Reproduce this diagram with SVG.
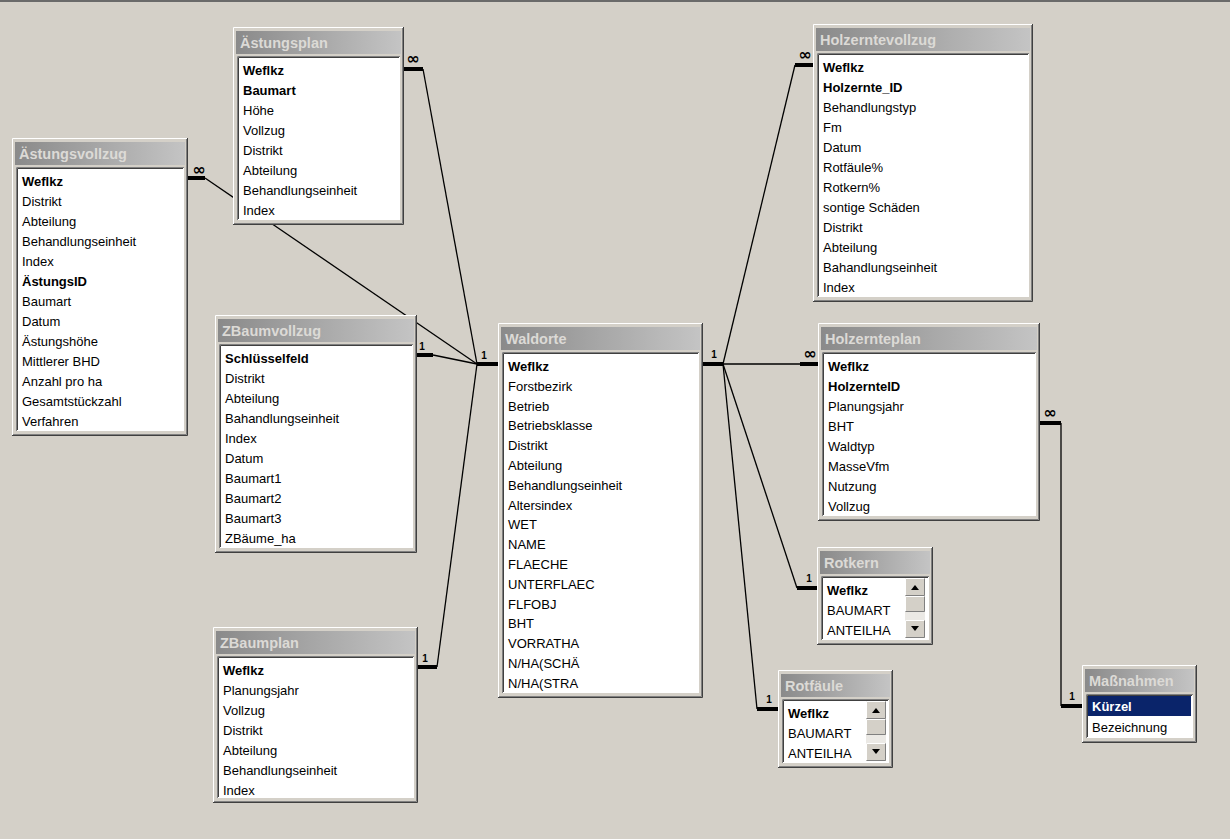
<svg xmlns="http://www.w3.org/2000/svg" width="1230" height="839" viewBox="0 0 1230 839">
<defs>
<linearGradient id="tbg" x1="0" y1="0" x2="1" y2="0"><stop offset="0" stop-color="#8a8a8a"/><stop offset="1" stop-color="#c4c4c4"/></linearGradient>
<style>
.fr{fill:#d4d0c8}
.hi{fill:none;stroke:#ffffff;stroke-width:1}
.dk{fill:none;stroke:#404040;stroke-width:1}
.md{fill:none;stroke:#808080;stroke-width:1}
.tb{fill:url(#tbg)}
.tt{font-family:"Liberation Sans",Arial,sans-serif;font-size:14.5px;font-weight:bold;fill:#dcdad6}
.lb{fill:#ffffff}
.f{font-family:"Liberation Sans",Arial,sans-serif;font-size:13px;fill:#000000}
.k{font-weight:bold}
.sel{fill:#ffffff;font-weight:bold}
.ln{fill:none;stroke:#000000;stroke-width:1.3}
.st{fill:none;stroke:#000000;stroke-width:4}
.one{font-family:"Liberation Sans",Arial,sans-serif;font-size:10px;font-weight:bold;fill:#000000;text-anchor:middle}
.inf{font-family:"DejaVu Sans",sans-serif;font-size:16px;font-weight:bold;fill:#000000;text-anchor:middle}
</style>
<g id="sbar">
<rect x="0" y="0" width="20" height="60" fill="#ebe9e5"/>
<rect class="fr" x="0" y="0" width="20" height="18"/>
<path class="hi" d="M0.5,17.5V0.5H19.5"/>
<path class="md" d="M0.5,17.5H19.5V0.5"/>
<path d="M6,12H14L10,7Z" fill="#000"/>
<rect class="fr" x="0" y="18" width="20" height="16"/>
<path class="hi" d="M0.5,33.5V18.5H19.5"/>
<path class="md" d="M0.5,33.5H19.5V18.5"/>
<rect class="fr" x="0" y="42" width="20" height="18"/>
<path class="hi" d="M0.5,59.5V42.5H19.5"/>
<path class="md" d="M0.5,59.5H19.5V42.5"/>
<path d="M6,48H14L10,53Z" fill="#000"/>
</g>
</defs>
<rect x="0" y="0" width="1230" height="839" fill="#d4d0c8"/>
<rect x="0" y="0" width="1230" height="2" fill="#6a6a6a"/>

<g id="connectors">
<path class="ln" d="M205,178L477,364"/>
<path class="ln" d="M423,69L477,364"/>
<path class="ln" d="M433,355L477,364"/>
<path class="ln" d="M437,667L477,364"/>
<path class="ln" d="M723,364L795,65"/>
<path class="ln" d="M723,364H800"/>
<path class="ln" d="M723,364L797,588"/>
<path class="ln" d="M723,364L757,709"/>
<path class="ln" d="M1061,423V706"/>
<path class="st" d="M188,178H205"/>
<path class="st" d="M404,69H423"/>
<path class="st" d="M417,355H433"/>
<path class="st" d="M418,667H437"/>
<path class="st" d="M477,364H498"/>
<path class="st" d="M703,364H723"/>
<path class="st" d="M795,65H813"/>
<path class="st" d="M800,364H818"/>
<path class="st" d="M797,588H817"/>
<path class="st" d="M757,709H778"/>
<path class="st" d="M1040,423H1061"/>
<path class="st" d="M1061,706H1082"/>
<text class="inf" x="199" y="175">∞</text>
<text class="inf" x="413" y="64">∞</text>
<text class="one" x="422" y="350">1</text>
<text class="one" x="425" y="662">1</text>
<text class="one" x="484" y="359">1</text>
<text class="one" x="714" y="358">1</text>
<text class="inf" x="805" y="60">∞</text>
<text class="inf" x="810" y="359">∞</text>
<text class="one" x="809" y="582">1</text>
<text class="one" x="769" y="703">1</text>
<text class="inf" x="1050" y="418">∞</text>
<text class="one" x="1072" y="700">1</text>
</g>

<g id="Astungsvollzug" transform="translate(12,138)">
<rect class="fr" width="176" height="298"/>
<path class="hi" d="M0.5,297V0.5H175"/><path class="dk" d="M0,297.5H175.5V0"/><path class="md" d="M1,296.5H174.5V1"/>
<rect class="tb" x="3" y="4" width="170" height="23"/>
<text class="tt" x="7" y="21">Ästungsvollzug</text>
<rect class="lb" x="4" y="29" width="168" height="264"/>
<path class="md" d="M4.5,293V29.5H172"/><path class="dk" d="M5.5,292V30.5H171"/>
<text class="f k" x="10" y="48">Weflkz</text>
<text class="f" x="10" y="68">Distrikt</text>
<text class="f" x="10" y="88">Abteilung</text>
<text class="f" x="10" y="108">Behandlungseinheit</text>
<text class="f" x="10" y="128">Index</text>
<text class="f k" x="10" y="148">ÄstungsID</text>
<text class="f" x="10" y="168">Baumart</text>
<text class="f" x="10" y="188">Datum</text>
<text class="f" x="10" y="208">Ästungshöhe</text>
<text class="f" x="10" y="228">Mittlerer BHD</text>
<text class="f" x="10" y="248">Anzahl pro ha</text>
<text class="f" x="10" y="268">Gesamtstückzahl</text>
<text class="f" x="10" y="288">Verfahren</text>
</g>

<g id="Astungsplan" transform="translate(233,27)">
<rect class="fr" width="171" height="198"/>
<path class="hi" d="M0.5,197V0.5H170"/><path class="dk" d="M0,197.5H170.5V0"/><path class="md" d="M1,196.5H169.5V1"/>
<rect class="tb" x="3" y="4" width="165" height="23"/>
<text class="tt" x="7" y="21">Ästungsplan</text>
<rect class="lb" x="4" y="29" width="163" height="164"/>
<path class="md" d="M4.5,193V29.5H167"/><path class="dk" d="M5.5,192V30.5H166"/>
<text class="f k" x="10" y="48">Weflkz</text>
<text class="f k" x="10" y="68">Baumart</text>
<text class="f" x="10" y="88">Höhe</text>
<text class="f" x="10" y="108">Vollzug</text>
<text class="f" x="10" y="128">Distrikt</text>
<text class="f" x="10" y="148">Abteilung</text>
<text class="f" x="10" y="168">Behandlungseinheit</text>
<text class="f" x="10" y="188">Index</text>
</g>

<g id="ZBaumvollzug" transform="translate(215,315)">
<rect class="fr" width="202" height="238"/>
<path class="hi" d="M0.5,237V0.5H201"/><path class="dk" d="M0,237.5H201.5V0"/><path class="md" d="M1,236.5H200.5V1"/>
<rect class="tb" x="3" y="4" width="196" height="23"/>
<text class="tt" x="7" y="21">ZBaumvollzug</text>
<rect class="lb" x="4" y="29" width="194" height="204"/>
<path class="md" d="M4.5,233V29.5H198"/><path class="dk" d="M5.5,232V30.5H197"/>
<text class="f k" x="10" y="48">Schlüsselfeld</text>
<text class="f" x="10" y="68">Distrikt</text>
<text class="f" x="10" y="88">Abteilung</text>
<text class="f" x="10" y="108">Bahandlungseinheit</text>
<text class="f" x="10" y="128">Index</text>
<text class="f" x="10" y="148">Datum</text>
<text class="f" x="10" y="168">Baumart1</text>
<text class="f" x="10" y="188">Baumart2</text>
<text class="f" x="10" y="208">Baumart3</text>
<text class="f" x="10" y="228">ZBäume_ha</text>
</g>

<g id="ZBaumplan" transform="translate(213,627)">
<rect class="fr" width="205" height="176"/>
<path class="hi" d="M0.5,175V0.5H204"/><path class="dk" d="M0,175.5H204.5V0"/><path class="md" d="M1,174.5H203.5V1"/>
<rect class="tb" x="3" y="4" width="199" height="23"/>
<text class="tt" x="7" y="21">ZBaumplan</text>
<rect class="lb" x="4" y="29" width="197" height="142"/>
<path class="md" d="M4.5,171V29.5H201"/><path class="dk" d="M5.5,170V30.5H200"/>
<text class="f k" x="10" y="48">Weflkz</text>
<text class="f" x="10" y="68">Planungsjahr</text>
<text class="f" x="10" y="88">Vollzug</text>
<text class="f" x="10" y="108">Distrikt</text>
<text class="f" x="10" y="128">Abteilung</text>
<text class="f" x="10" y="148">Behandlungseinheit</text>
<text class="f" x="10" y="168">Index</text>
</g>

<g id="Waldorte" transform="translate(498,323)">
<rect class="fr" width="205" height="375"/>
<path class="hi" d="M0.5,374V0.5H204"/><path class="dk" d="M0,374.5H204.5V0"/><path class="md" d="M1,373.5H203.5V1"/>
<rect class="tb" x="3" y="4" width="199" height="23"/>
<text class="tt" x="7" y="21">Waldorte</text>
<rect class="lb" x="4" y="29" width="197" height="341"/>
<path class="md" d="M4.5,370V29.5H201"/><path class="dk" d="M5.5,369V30.5H200"/>
<text class="f k" x="10" y="48">Weflkz</text>
<text class="f" x="10" y="67.8">Forstbezirk</text>
<text class="f" x="10" y="87.6">Betrieb</text>
<text class="f" x="10" y="107.4">Betriebsklasse</text>
<text class="f" x="10" y="127.2">Distrikt</text>
<text class="f" x="10" y="147">Abteilung</text>
<text class="f" x="10" y="166.8">Behandlungseinheit</text>
<text class="f" x="10" y="186.6">Altersindex</text>
<text class="f" x="10" y="206.4">WET</text>
<text class="f" x="10" y="226.2">NAME</text>
<text class="f" x="10" y="246">FLAECHE</text>
<text class="f" x="10" y="265.8">UNTERFLAEC</text>
<text class="f" x="10" y="285.6">FLFOBJ</text>
<text class="f" x="10" y="305.4">BHT</text>
<text class="f" x="10" y="325.2">VORRATHA</text>
<text class="f" x="10" y="345">N/HA(SCHÄ</text>
<text class="f" x="10" y="364.8">N/HA(STRA</text>
</g>

<g id="Holzerntevollzug" transform="translate(813,24)">
<rect class="fr" width="220" height="278"/>
<path class="hi" d="M0.5,277V0.5H219"/><path class="dk" d="M0,277.5H219.5V0"/><path class="md" d="M1,276.5H218.5V1"/>
<rect class="tb" x="3" y="4" width="214" height="23"/>
<text class="tt" x="7" y="21">Holzerntevollzug</text>
<rect class="lb" x="4" y="29" width="212" height="244"/>
<path class="md" d="M4.5,273V29.5H216"/><path class="dk" d="M5.5,272V30.5H215"/>
<text class="f k" x="10" y="48">Weflkz</text>
<text class="f k" x="10" y="68">Holzernte_ID</text>
<text class="f" x="10" y="88">Behandlungstyp</text>
<text class="f" x="10" y="108">Fm</text>
<text class="f" x="10" y="128">Datum</text>
<text class="f" x="10" y="148">Rotfäule%</text>
<text class="f" x="10" y="168">Rotkern%</text>
<text class="f" x="10" y="188">sontige Schäden</text>
<text class="f" x="10" y="208">Distrikt</text>
<text class="f" x="10" y="228">Abteilung</text>
<text class="f" x="10" y="248">Bahandlungseinheit</text>
<text class="f" x="10" y="268">Index</text>
</g>

<g id="Holzernteplan" transform="translate(818,323)">
<rect class="fr" width="222" height="198"/>
<path class="hi" d="M0.5,197V0.5H221"/><path class="dk" d="M0,197.5H221.5V0"/><path class="md" d="M1,196.5H220.5V1"/>
<rect class="tb" x="3" y="4" width="216" height="23"/>
<text class="tt" x="7" y="21">Holzernteplan</text>
<rect class="lb" x="4" y="29" width="214" height="164"/>
<path class="md" d="M4.5,193V29.5H218"/><path class="dk" d="M5.5,192V30.5H217"/>
<text class="f k" x="10" y="48">Weflkz</text>
<text class="f k" x="10" y="68">HolzernteID</text>
<text class="f" x="10" y="88">Planungsjahr</text>
<text class="f" x="10" y="108">BHT</text>
<text class="f" x="10" y="128">Waldtyp</text>
<text class="f" x="10" y="148">MasseVfm</text>
<text class="f" x="10" y="168">Nutzung</text>
<text class="f" x="10" y="188">Vollzug</text>
</g>

<g id="Rotkern" transform="translate(817,547)">
<rect class="fr" width="116" height="98"/>
<path class="hi" d="M0.5,97V0.5H115"/><path class="dk" d="M0,97.5H115.5V0"/><path class="md" d="M1,96.5H114.5V1"/>
<rect class="tb" x="3" y="4" width="110" height="23"/>
<text class="tt" x="7" y="21">Rotkern</text>
<rect class="lb" x="4" y="29" width="108" height="64"/>
<path class="md" d="M4.5,93V29.5H112"/><path class="dk" d="M5.5,92V30.5H111"/>
<text class="f k" x="10" y="48">Weflkz</text>
<text class="f" x="10" y="68">BAUMART</text>
<text class="f" x="10" y="88">ANTEILHA</text>
<use href="#sbar" x="88" y="31"/>
</g>

<g id="Rotfaeule" transform="translate(778,670)">
<rect class="fr" width="115" height="98"/>
<path class="hi" d="M0.5,97V0.5H114"/><path class="dk" d="M0,97.5H114.5V0"/><path class="md" d="M1,96.5H113.5V1"/>
<rect class="tb" x="3" y="4" width="109" height="23"/>
<text class="tt" x="7" y="21">Rotfäule</text>
<rect class="lb" x="4" y="29" width="107" height="64"/>
<path class="md" d="M4.5,93V29.5H111"/><path class="dk" d="M5.5,92V30.5H110"/>
<text class="f k" x="10" y="48">Weflkz</text>
<text class="f" x="10" y="68">BAUMART</text>
<text class="f" x="10" y="88">ANTEILHA</text>
<use href="#sbar" x="88" y="31"/>
</g>

<g id="Massnahmen" transform="translate(1082,665)">
<rect class="fr" width="115" height="78"/>
<path class="hi" d="M0.5,77V0.5H114"/><path class="dk" d="M0,77.5H114.5V0"/><path class="md" d="M1,76.5H113.5V1"/>
<rect class="tb" x="3" y="4" width="109" height="23"/>
<text class="tt" x="7" y="21">Maßnahmen</text>
<rect class="lb" x="4" y="29" width="107" height="44"/>
<path class="md" d="M4.5,73V29.5H111"/><path class="dk" d="M5.5,72V30.5H110"/>
<rect x="6" y="31" width="103" height="20" fill="#0a246a"/>
<text class="f sel" x="10" y="46">Kürzel</text>
<text class="f" x="10" y="67">Bezeichnung</text>
</g>
</svg>
